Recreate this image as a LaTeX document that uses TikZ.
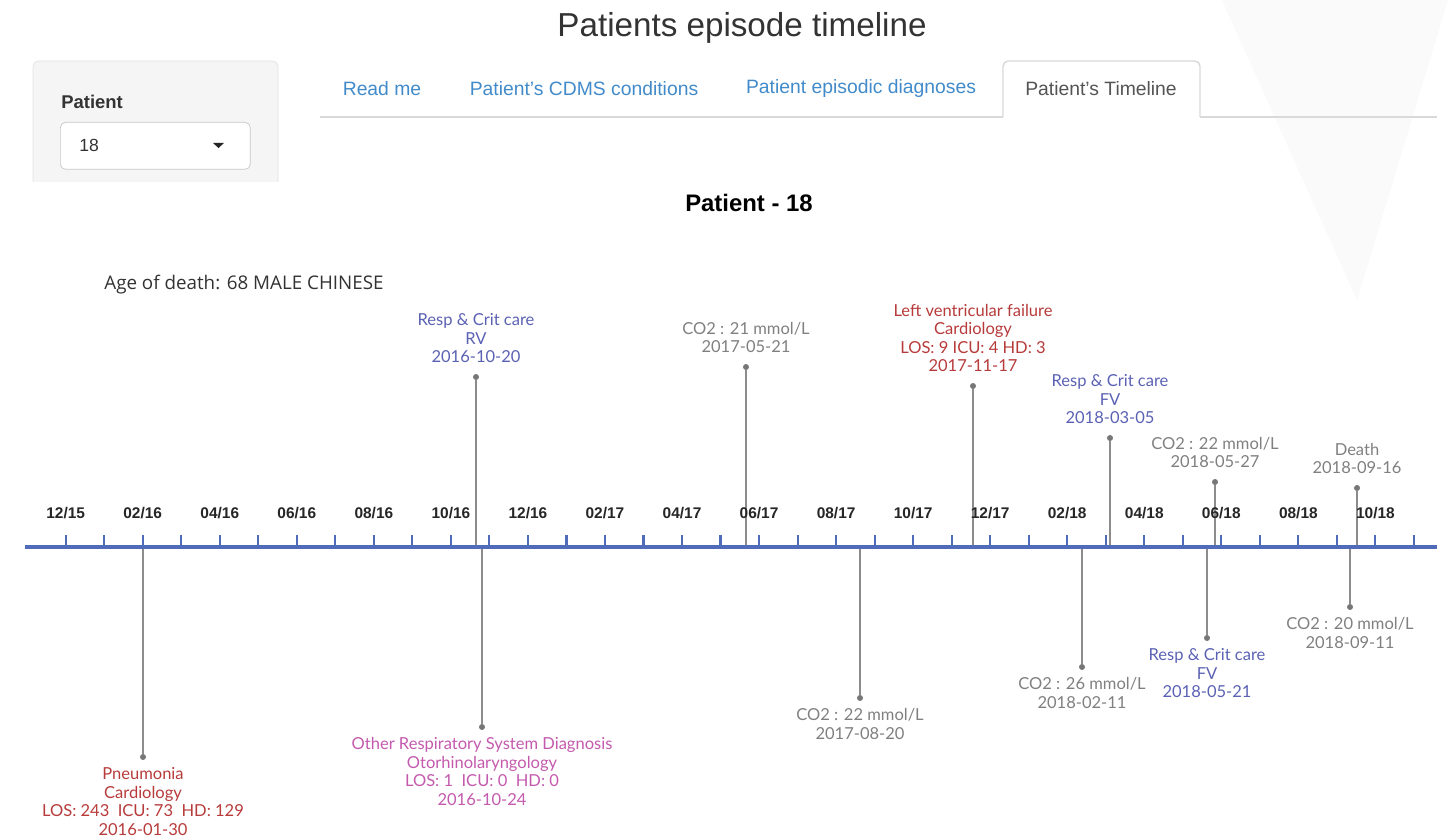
\documentclass[tikz,border=0pt]{standalone}
\usepackage{fontspec}
\setmainfont{Liberation Sans}
\newfontfamily\evfont{Lato}
\newfontfamily\agefont{Open Sans}
\usetikzlibrary{positioning}

\definecolor{evblue}{HTML}{5B62B4}
\definecolor{evred}{HTML}{B83B3B}
\definecolor{evpink}{HTML}{C45AAE}
\definecolor{evgray}{HTML}{808080}
\definecolor{stemgray}{HTML}{8C8C8C}
\definecolor{dotgray}{HTML}{777777}
\definecolor{axisblue}{HTML}{4F6BBA}
\definecolor{tablink}{HTML}{428BCA}
\definecolor{panelfill}{HTML}{F5F5F5}
\definecolor{panelline}{HTML}{E3E3E3}

\begin{document}
\begin{tikzpicture}[
  x=0.02cm, y=-0.02cm,
  ev/.style={align=center, inner sep=0pt, font=\evfont\fontsize{9.4}{10.5}\selectfont},
  evdot/.style={circle, fill=dotgray, inner sep=0pt, minimum size=0.12cm},
  stem/.style={draw=stemgray, line width=0.85pt},
  axis/.style={draw=axisblue, line width=2.3pt},
  tick/.style={draw=axisblue, line width=1.2pt},
  monthlab/.style={font=\bfseries\fontsize{8.8}{10}\selectfont, text=black!85},
  tablab/.style={font=\fontsize{11}{13}\selectfont, text=tablink}
]

\useasboundingbox (0,0) rectangle (1452,837);
\fill[white] (0,0) rectangle (1452,837);
\fill[black!2] (1222,0) -- (1448,0) -- (1357,300) -- cycle;

% page header
\node[font=\fontsize{18.9}{22}\selectfont, text=black!80] (title) at (742,28) {Patients episode timeline};

% side panel
\draw[panelline, fill=panelfill, rounded corners=3pt] (33,182) -- (33,61) -- (278,61) -- (278,182);
\node[font=\bfseries\fontsize{10.5}{12}\selectfont, text=black!80, anchor=west, inner sep=0pt] (patlab) at (61,102) {Patient};
\node[draw=black!22, fill=white, rounded corners=3pt, minimum width=3.8cm, minimum height=0.94cm, anchor=north west] (select) at (60,122) {};
\node[font=\fontsize{10}{12}\selectfont, text=black!80, anchor=west, inner sep=0pt] (selval) at (79,145) {18};
\fill[black!85] (213,143) -- (224,143) -- (218.5,148) -- cycle;

% tabs
\draw[black!15, line width=0.8pt] (320,117) -- (1003,117);
\draw[black!15, line width=0.8pt] (1200,117) -- (1437,117);
\draw[black!15, line width=0.8pt, rounded corners=3pt] (1003,117) -- (1003,61) -- (1200,61) -- (1200,117);
\node[tablab] (tab1) at (382,89) {Read me};
\node[tablab] (tab2) at (584,89) {Patient's CDMS conditions};
\node[tablab] (tab3) at (861,89) {Patient episodic diagnoses};
\node[tablab, text=black!67] (tab4) at (1101,89) {Patient's Timeline};

\node[font=\bfseries\fontsize{13.6}{16}\selectfont] (chart) at (749,203) {Patient - 18};
\node[font=\agefont\fontsize{10.7}{12}\selectfont, text=black!80, anchor=west, inner sep=0pt] (age) at (104,285) {Age of death: 68 MALE CHINESE};

% events above the axis
\coordinate (e1) at (476,547);
\node[evdot] (e1dot) at (476,377) {};
\node[ev, text=evblue, above=6pt of e1dot] (e1lab) {Resp \& Crit care\\RV\\2016-10-20};
\draw[stem] (e1) -- (e1dot.south);

\coordinate (e2) at (746,547);
\node[evdot] (e2dot) at (746,367) {};
\node[ev, text=evgray, above=6pt of e2dot] (e2lab) {CO2 : 21 mmol/L\\2017-05-21};
\draw[stem] (e2) -- (e2dot.south);

\coordinate (e3) at (973,547);
\node[evdot] (e3dot) at (973,386) {};
\node[ev, text=evred, above=6pt of e3dot] (e3lab) {Left ventricular failure\\Cardiology\\LOS: 9 ICU: 4 HD: 3\\2017-11-17};
\draw[stem] (e3) -- (e3dot.south);

\coordinate (e4) at (1110,547);
\node[evdot] (e4dot) at (1110,438) {};
\node[ev, text=evblue, above=6pt of e4dot] (e4lab) {Resp \& Crit care\\FV\\2018-03-05};
\draw[stem] (e4) -- (e4dot.south);

\coordinate (e5) at (1215,547);
\node[evdot] (e5dot) at (1215,482) {};
\node[ev, text=evgray, above=6pt of e5dot] (e5lab) {CO2 : 22 mmol/L\\2018-05-27};
\draw[stem] (e5) -- (e5dot.south);

\coordinate (e6) at (1357,547);
\node[evdot] (e6dot) at (1357,488) {};
\node[ev, text=evgray, above=6pt of e6dot] (e6lab) {Death\\2018-09-16};
\draw[stem] (e6) -- (e6dot.south);

% events below the axis
\coordinate (f1) at (143,547);
\node[evdot] (f1dot) at (143,757) {};
\node[ev, text=evred, below=4pt of f1dot] (f1lab) {Pneumonia\\Cardiology\\LOS: 243~ ICU: 73~ HD: 129\\2016-01-30};
\draw[stem] (f1) -- (f1dot.north);

\coordinate (f2) at (482,547);
\node[evdot] (f2dot) at (482,727) {};
\node[ev, text=evpink, below=4pt of f2dot] (f2lab) {Other Respiratory System Diagnosis\\Otorhinolaryngology\\LOS: 1~ ICU: 0~ HD: 0\\2016-10-24};
\draw[stem] (f2) -- (f2dot.north);

\coordinate (f3) at (860,547);
\node[evdot] (f3dot) at (860,698) {};
\node[ev, text=evgray, below=4pt of f3dot] (f3lab) {CO2 : 22 mmol/L\\2017-08-20};
\draw[stem] (f3) -- (f3dot.north);

\coordinate (f4) at (1082,547);
\node[evdot] (f4dot) at (1082,667) {};
\node[ev, text=evgray, below=4pt of f4dot] (f4lab) {CO2 : 26 mmol/L\\2018-02-11};
\draw[stem] (f4) -- (f4dot.north);

\coordinate (f5) at (1207,547);
\node[evdot] (f5dot) at (1207,638) {};
\node[ev, text=evblue, below=4pt of f5dot] (f5lab) {Resp \& Crit care\\FV\\2018-05-21};
\draw[stem] (f5) -- (f5dot.north);

\coordinate (f6) at (1350,547);
\node[evdot] (f6dot) at (1350,607) {};
\node[ev, text=evgray, below=4pt of f6dot] (f6lab) {CO2 : 20 mmol/L\\2018-09-11};
\draw[stem] (f6) -- (f6dot.north);

% time axis
\coordinate (axL) at (25,547);
\coordinate (axR) at (1437,547);
\foreach \i in {0,...,35}
  \draw[tick] (65.7+38.52*\i,535) -- (65.7+38.52*\i,547);
\draw[axis] (axL) -- (axR);
\foreach \lab [count=\k from 0] in {12/15,02/16,04/16,06/16,08/16,10/16,12/16,02/17,04/17,06/17,08/17,10/17,12/17,02/18,04/18,06/18,08/18,10/18}
  \node[monthlab] (m\k) at (65.7+77.04*\k,513) {\lab};

\end{tikzpicture}
\end{document}
